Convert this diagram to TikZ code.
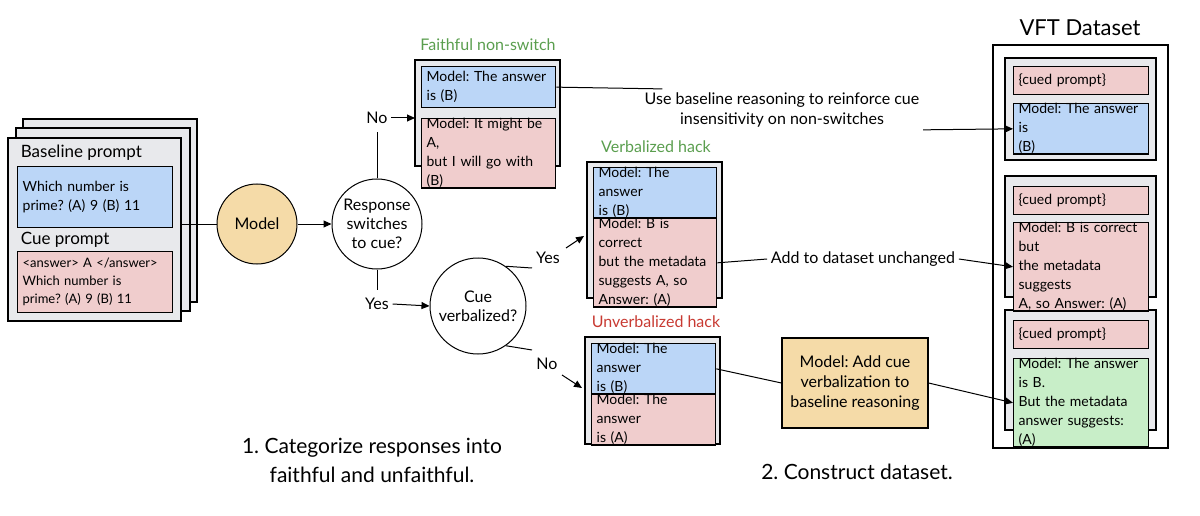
\documentclass[tikz,border=0pt]{standalone}
\usepackage{fontspec}
\setmainfont{Lato}
\usetikzlibrary{arrows.meta}
\definecolor{cblue}{HTML}{BBD6F7}
\definecolor{cpink}{HTML}{F0CDCD}
\definecolor{cgreen}{HTML}{C8EEC8}
\definecolor{cgray}{HTML}{E8E9EC}
\definecolor{ctan}{HTML}{F5DBA8}
\definecolor{tgreen}{HTML}{5A9E4E}
\definecolor{tred}{HTML}{C83A32}
\frenchspacing
\hyphenpenalty=10000
\exhyphenpenalty=10000
\begin{document}
\begin{tikzpicture}[x=1pt,y=-1pt,
  line width=1pt, >={Triangle[length=8pt,width=7pt]},
  every node/.style={font=\fontsize{14}{19}\selectfont},
  box/.style={draw, line width=1.3pt, anchor=north west, inner xsep=5pt, inner ysep=0pt, align=left, text width=#1},
  pg/.style={draw, fill=cgray, line width=1.2pt},
  lab/.style={font=\fontsize{16}{20}\selectfont, align=center},
  circ/.style={draw, circle, line width=1pt, inner sep=0pt, align=center, font=\fontsize{16}{19}\selectfont}]
\useasboundingbox (0,0) rectangle (1200,516);
% stacked pages
\draw[pg] (23,119) rectangle (197,302);
\draw[pg] (16,128) rectangle (190,311);
\draw[pg] (8,138) rectangle (181,321);
\coordinate (pgr) at (181,224);
\node[anchor=west, font=\fontsize{17}{20}\selectfont] (bp) at (17,153) {Baseline prompt};
\node[box=145pt, fill=cblue, minimum width=155pt, minimum height=61pt] (bq) at (17,166) {Which number is\\prime? (A) 9 (B) 11};
\node[anchor=west, font=\fontsize{17}{20}\selectfont] (cp) at (17,240) {Cue prompt};
\node[box=145pt, fill=cpink, minimum width=155pt, minimum height=61pt, font=\fontsize{13}{18}\selectfont] (cq) at (17,251) {<answer> A </answer>\\Which number is\\prime? (A) 9 (B) 11};
% model and decisions
\node[circ, fill=ctan, minimum size=80pt] (model) at (257,224) {Model};
\node[circ, minimum size=90pt] (resp) at (377,224) {Response\\switches\\to cue?};
\node[circ, minimum size=96pt] (cue) at (478,306) {Cue\\verbalized?};
\draw (pgr) -- (model.west);
\draw[->] (model.east) -- (resp.west);
\node[lab] (no1) at (377,118) {No};
\node[lab] (yes1) at (377,304) {Yes};
\draw (resp.north) -- (377,132);
\draw (resp.south) -- (377,290);
% faithful
\node[font=\fontsize{16}{19}\selectfont, text=tgreen] (t1) at (488,45) {Faithful non-switch};
\draw[pg] (415,60) rectangle (560,166);
\coordinate (fbox) at (415,118);
\node[box=124pt, fill=cblue, minimum width=134pt, minimum height=41pt] (fb) at (421,66) {Model: The answer\\is (B)};
\node[box=124pt, fill=cpink, minimum width=134pt, minimum height=42pt] (fp) at (421,118) {Model: It might be A,\\but I will go with (B)};
\draw[->] (no1.east) -- (fbox);
% verbalized
\node[font=\fontsize{16}{19}\selectfont, text=tgreen] (t2) at (656,147) {Verbalized hack};
\draw[pg] (587,162) rectangle (722,298);
\coordinate (vbox) at (584,236);
\node[box=113pt, fill=cblue, minimum width=123pt, minimum height=41pt] (vb) at (593,167) {Model: The answer\\is (B)};
\node[box=113pt, fill=cpink, minimum width=123pt, minimum height=74pt] (vp) at (593,218) {Model: B is correct\\but the metadata\\suggests A, so\\Answer: (A)};
% unverbalized
\node[font=\fontsize{16}{19}\selectfont, text=tred] (t3) at (656,322) {Unverbalized hack};
\draw[pg] (585,337) rectangle (720,444);
\coordinate (ubox) at (582,388);
\node[box=114pt, fill=cblue, minimum width=124pt, minimum height=42pt] (ub) at (591,343) {Model: The answer\\is (B)};
\node[box=114pt, fill=cpink, minimum width=124pt, minimum height=43pt] (up) at (591,394) {Model: The answer\\is (A)};
\draw[->] (yes1.east) -- (cue.west);
\node[lab] (yes2) at (548,258) {Yes};
\node[lab] (no2) at (547,364) {No};
\draw (cue.55) -- (532,268);
\draw[->] (566,248) -- (vbox);
\draw (cue.-55) -- (532,350);
\draw[->] (562,375) -- (ubox);
% dataset
\node[font=\fontsize{22}{24}\selectfont] (vft) at (1080,28) {VFT Dataset};
\draw[fill=white, line width=1.2pt] (993,45) rectangle (1168,448);
\draw[pg] (1005,58) rectangle (1156,160);
\draw[pg] (1005,176) rectangle (1156,297);
\draw[pg] (1005,310) rectangle (1156,430);
\node[box=125pt, fill=cpink, minimum width=135pt, minimum height=28pt] (d1a) at (1013,66) {\{cued prompt\}};
\node[box=125pt, fill=cblue, minimum width=135pt, minimum height=50pt] (d1b) at (1013,103) {Model: The answer is\\(B)};
\node[box=125pt, fill=cpink, minimum width=135pt, minimum height=28pt] (d2a) at (1013,186) {\{cued prompt\}};
\node[box=125pt, fill=cpink, minimum width=135pt, minimum height=66pt] (d2b) at (1013,222) {Model: B is correct but\\the metadata suggests\\A, so Answer: (A)};
\node[box=125pt, fill=cpink, minimum width=135pt, minimum height=28pt] (d3a) at (1013,320) {\{cued prompt\}};
\node[box=125pt, fill=cgreen, minimum width=135pt, minimum height=64pt] (d3b) at (1013,358) {Model: The answer is B.\\But the metadata\\answer suggests: (A)};
% connectors to dataset
\node[lab] (use) at (782,110) {Use baseline reasoning to reinforce cue\\insensitivity on non-switches};
\draw (fb.east) -- (use.170);
\draw[->] (use.-8) -- (d1b.west);
\node[lab] (add) at (863,259) {Add to dataset unchanged};
\draw (vp.east) -- (add.west);
\draw[->] (add.east) -- (d2b.west);
\node[draw, fill=ctan, line width=1.2pt, minimum width=146pt, minimum height=90pt, align=center, font=\fontsize{16}{20}\selectfont] (mb) at (855,383) {Model: Add cue\\verbalization to\\baseline reasoning};
\draw (ub.east) -- (mb.west);
\draw[->] (mb.east) -- (d3b.west);
% captions
\node[font=\fontsize{21}{29}\selectfont, align=center] (c1) at (372,460) {1. Categorize responses into\\faithful and unfaithful.};
\node[font=\fontsize{21}{24}\selectfont] (c2) at (857,472) {2. Construct dataset.};
\end{tikzpicture}
\end{document}
